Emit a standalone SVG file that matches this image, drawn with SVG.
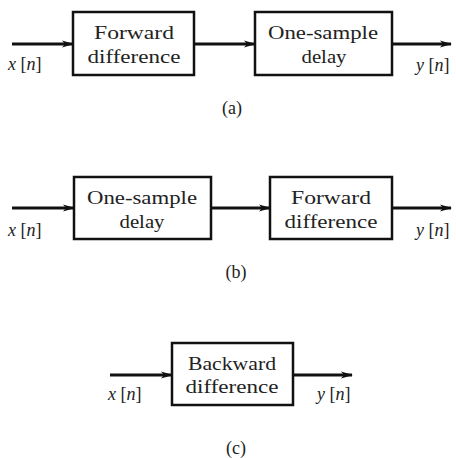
<svg xmlns="http://www.w3.org/2000/svg" width="456" height="458" viewBox="0 0 456 458">
<defs>
<marker id="ah" markerWidth="12" markerHeight="8" refX="11" refY="4" orient="auto" markerUnits="userSpaceOnUse">
<path d="M0,0.5 L12,4 L0,7.5 L3,4 Z" fill="#111"/>
</marker>
<style>
.box{fill:#fff;stroke:#111;stroke-width:2.5}
.ln{stroke:#111;stroke-width:3;fill:none;marker-end:url(#ah)}
text{font-family:'Times New Roman','Liberation Serif',Tinos,serif;fill:#222}
.t{font-size:19px;text-anchor:middle}
.v{font-size:18px}
.cap{font-size:18px;text-anchor:middle}
</style>
</defs>
<rect width="456" height="458" fill="#fff"/>
<g id="connectors">
<line class="ln" x1="12" y1="44" x2="73" y2="44"/>
<line class="ln" x1="194" y1="44" x2="255" y2="44"/>
<line class="ln" x1="392" y1="44" x2="451" y2="44"/>
<line class="ln" x1="12" y1="208" x2="74" y2="208"/>
<line class="ln" x1="211" y1="208" x2="270" y2="208"/>
<line class="ln" x1="392" y1="208" x2="451" y2="208"/>
<line class="ln" x1="110" y1="375" x2="172" y2="375"/>
<line class="ln" x1="293" y1="375" x2="352" y2="375"/>
</g>
<g id="a-forward">
<rect class="box" x="73" y="12" width="121" height="63"/>
<text class="t" x="134" y="39" textLength="80" lengthAdjust="spacingAndGlyphs">Forward</text>
<text class="t" x="134" y="63" textLength="93" lengthAdjust="spacingAndGlyphs">difference</text>
</g>
<g id="a-delay">
<rect class="box" x="255" y="12" width="137" height="63"/>
<text class="t" x="323" y="39" textLength="110" lengthAdjust="spacingAndGlyphs">One-sample</text>
<text class="t" x="324" y="63" textLength="45" lengthAdjust="spacingAndGlyphs">delay</text>
</g>
<g id="a-labels">
<text class="v" x="8" y="70"><tspan font-style="italic">x</tspan> [<tspan font-style="italic">n</tspan>]</text>
<text class="v" x="416" y="71"><tspan font-style="italic">y</tspan> [<tspan font-style="italic">n</tspan>]</text>
<text class="cap" x="232" y="114">(a)</text>
</g>
<g id="b-delay">
<rect class="box" x="74" y="177" width="137" height="62"/>
<text class="t" x="142" y="204" textLength="110" lengthAdjust="spacingAndGlyphs">One-sample</text>
<text class="t" x="142" y="228" textLength="45" lengthAdjust="spacingAndGlyphs">delay</text>
</g>
<g id="b-forward">
<rect class="box" x="270" y="177" width="122" height="62"/>
<text class="t" x="331" y="204" textLength="80" lengthAdjust="spacingAndGlyphs">Forward</text>
<text class="t" x="331" y="228" textLength="93" lengthAdjust="spacingAndGlyphs">difference</text>
</g>
<g id="b-labels">
<text class="v" x="8" y="236"><tspan font-style="italic">x</tspan> [<tspan font-style="italic">n</tspan>]</text>
<text class="v" x="416" y="236"><tspan font-style="italic">y</tspan> [<tspan font-style="italic">n</tspan>]</text>
<text class="cap" x="236" y="278">(b)</text>
</g>
<g id="c-backward">
<rect class="box" x="172" y="343" width="121" height="62"/>
<text class="t" x="232" y="370" textLength="88" lengthAdjust="spacingAndGlyphs">Backward</text>
<text class="t" x="232" y="393" textLength="93" lengthAdjust="spacingAndGlyphs">difference</text>
</g>
<g id="c-labels">
<text class="v" x="108" y="400"><tspan font-style="italic">x</tspan> [<tspan font-style="italic">n</tspan>]</text>
<text class="v" x="317" y="400"><tspan font-style="italic">y</tspan> [<tspan font-style="italic">n</tspan>]</text>
<text class="cap" x="236" y="454">(c)</text>
</g>
</svg>
